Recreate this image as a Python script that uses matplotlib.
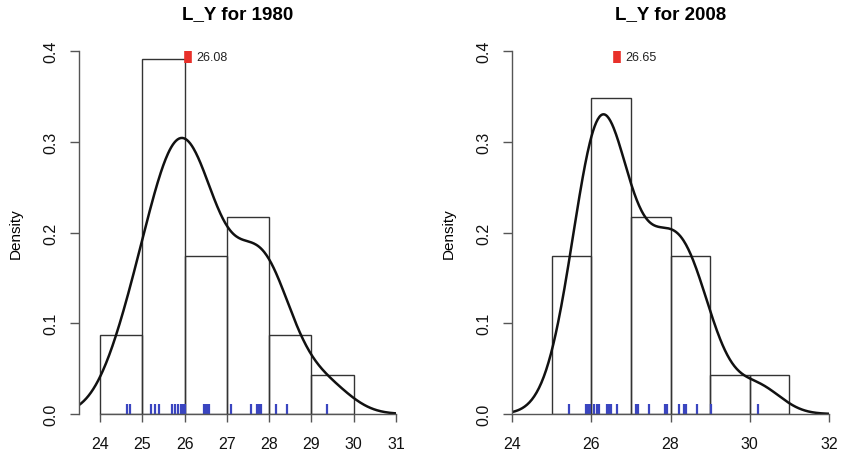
import numpy as np
import matplotlib
matplotlib.use("Agg")
import matplotlib.pyplot as plt

plt.rcParams["font.family"] = ["Liberation Sans", "DejaVu Sans"]

# Observations (log values) for each year
values_1980 = [24.63, 24.71, 25.20, 25.30, 25.40, 25.70, 25.78, 25.85, 25.91,
               25.96, 26.00, 26.46, 26.50, 26.53, 26.57, 27.09, 27.56, 27.72,
               27.77, 27.81, 28.16, 28.41, 29.36]
values_2008 = [25.44, 25.86, 25.91, 25.96, 26.08, 26.14, 26.20, 26.40, 26.44,
               26.46, 26.51, 26.65, 27.13, 27.19, 27.47, 27.86, 27.90, 28.21,
               28.33, 28.39, 28.66, 29.03, 30.20]

# Highlighted reference value per year
marker_1980 = 26.08
marker_2008 = 26.65

titles = ["L_Y for 1980", "L_Y for 2008"]
breaks_1980 = [24, 25, 26, 27, 28, 29, 30]
breaks_2008 = [25, 26, 27, 28, 29, 30, 31]
xticks_1980 = [24, 25, 26, 27, 28, 29, 30, 31]
xticks_2008 = [24, 26, 28, 30, 32]
xlim_1980 = (23.5, 31.0)
xlim_2008 = (24.0, 32.0)
yticks = [0.0, 0.1, 0.2, 0.3, 0.4]


def gaussian_kde(data, grid):
    """Gaussian kernel density with Silverman's rule-of-thumb bandwidth."""
    data = np.asarray(data)
    n = data.size
    sd = data.std(ddof=1)
    q75, q25 = np.percentile(data, [75, 25])
    h = 0.9 * min(sd, (q75 - q25) / 1.34) * n ** (-0.2)
    z = (grid[:, None] - data[None, :]) / h
    return np.exp(-0.5 * z ** 2).sum(axis=1) / (n * h * np.sqrt(2 * np.pi))


def hist_density(data, breaks):
    """Right-closed histogram bins scaled to unit area."""
    data = np.asarray(data)
    counts = np.array([np.sum((data > a) & (data <= b))
                       for a, b in zip(breaks[:-1], breaks[1:])], dtype=float)
    return counts / (counts.sum() * np.diff(breaks))


fig = plt.figure(figsize=(8.44, 4.56), dpi=100)
W, H = 844, 456
panels = [
    (values_1980, breaks_1980, xticks_1980, xlim_1980, marker_1980, 79),
    (values_2008, breaks_2008, xticks_2008, xlim_2008, marker_2008, 512),
]

edge = "#333333"
for i, (vals, brks, xt, xl, mk, left_px) in enumerate(panels):
    ax = fig.add_axes([left_px / W, (H - 415) / H, 317 / W, 363 / H])
    dens = hist_density(vals, brks)
    ax.bar(brks[:-1], dens, width=np.diff(brks), align="edge",
           facecolor="none", edgecolor=edge, linewidth=1.0)
    grid = np.linspace(xl[0], xl[1], 400)
    ax.plot(grid, gaussian_kde(vals, grid), color="#111111",
            lw=1.8, solid_capstyle="butt")
    # rug
    ax.vlines(vals, 0, 0.0105, color="#3a45c0", lw=1.6)
    # highlighted value
    ax.vlines([mk], 0.387, 0.401, color="#e8302a", lw=5.5)
    ax.text(mk + 0.2, 0.3935, f"{mk:.2f}", fontsize=9, va="center",
            ha="left", color="#222222")

    ax.set_xlim(*xl)
    ax.set_ylim(0, 0.4)
    ax.set_xticks(xt)
    ax.set_xticklabels([str(t) for t in xt])
    ax.set_yticks(yticks)
    ax.set_yticklabels([f"{t:.1f}" for t in yticks], rotation=90, va="center")
    for s in ("top", "right"):
        ax.spines[s].set_visible(False)
    ax.spines["bottom"].set_bounds(xt[0], xt[-1])
    ax.spines["left"].set_bounds(0, 0.4)
    for s in ("bottom", "left"):
        ax.spines[s].set_color("#555555")
        ax.spines[s].set_linewidth(1.0)
    ax.tick_params(axis="x", direction="out", length=6, width=1.0,
                   color="#555555", pad=10, labelsize=11.5, labelcolor="#111111")
    ax.tick_params(axis="y", direction="out", length=6.5, width=1.0,
                   color="#555555", pad=8, labelsize=11.5, labelcolor="#111111")
    ax.set_ylabel("Density", fontsize=11, labelpad=15)
    ax.set_title(titles[i], fontsize=13.5, fontweight="bold", pad=24)
    ax.patch.set_alpha(0)

fig.savefig("out.png", dpi=100)
